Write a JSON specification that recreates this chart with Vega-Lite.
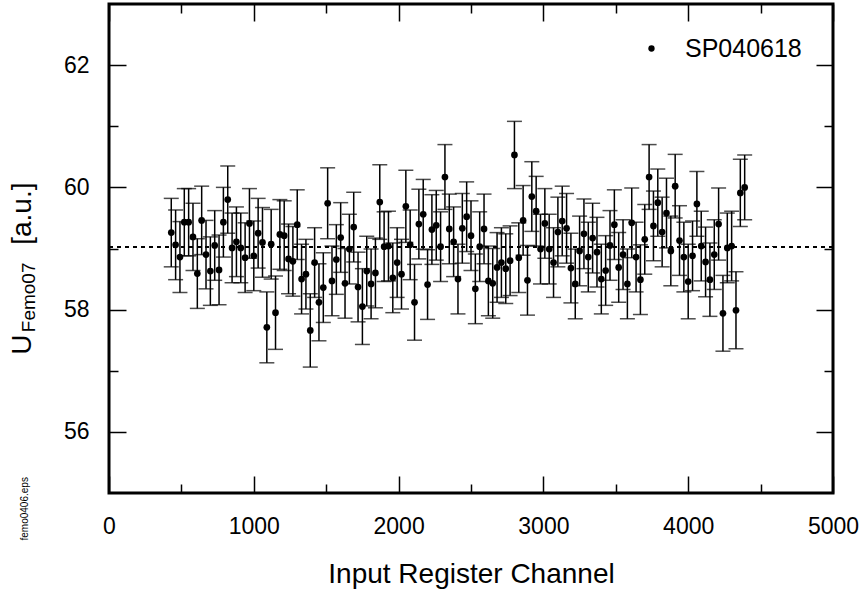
{
"$schema": "https://vega.github.io/schema/vega-lite/v6.json",
"width": 724, "height": 489,
"autosize": {"type": "none"},
"padding": {"left": 109, "top": 4, "right": 29, "bottom": 103},
"background": "white",
"config": {
  "view": {"stroke": "black", "strokeWidth": 3},
  "font": "Liberation Sans",
  "axis": {"grid": false, "domain": false, "tickColor": "black", "tickWidth": 1.5, "labelColor": "black", "titleColor": "black", "labelFont": "Liberation Sans", "titleFont": "Liberation Sans", "labelFontSize": 23, "titleFontWeight": "normal"}
},
"data": {"values": [
{"ch":430,"v":59.26,"lo":58.70,"hi":59.82},
{"ch":460,"v":59.06,"lo":58.49,"hi":59.63},
{"ch":490,"v":58.86,"lo":58.28,"hi":59.44},
{"ch":520,"v":59.43,"lo":58.88,"hi":59.98},
{"ch":550,"v":59.43,"lo":58.88,"hi":59.98},
{"ch":580,"v":59.19,"lo":58.64,"hi":59.74},
{"ch":610,"v":58.59,"lo":58.02,"hi":59.16},
{"ch":640,"v":59.46,"lo":58.90,"hi":60.02},
{"ch":670,"v":58.90,"lo":58.34,"hi":59.46},
{"ch":700,"v":58.63,"lo":58.07,"hi":59.19},
{"ch":730,"v":59.05,"lo":58.48,"hi":59.62},
{"ch":760,"v":58.65,"lo":58.08,"hi":59.22},
{"ch":790,"v":59.43,"lo":58.86,"hi":60.00},
{"ch":820,"v":59.80,"lo":59.25,"hi":60.35},
{"ch":850,"v":59.01,"lo":58.44,"hi":59.58},
{"ch":880,"v":59.11,"lo":58.54,"hi":59.68},
{"ch":910,"v":59.01,"lo":58.44,"hi":59.58},
{"ch":940,"v":58.85,"lo":58.28,"hi":59.42},
{"ch":970,"v":59.41,"lo":58.84,"hi":59.98},
{"ch":1000,"v":58.88,"lo":58.31,"hi":59.45},
{"ch":1030,"v":59.25,"lo":58.68,"hi":59.82},
{"ch":1060,"v":59.10,"lo":58.53,"hi":59.67},
{"ch":1090,"v":57.71,"lo":57.13,"hi":58.29},
{"ch":1120,"v":59.07,"lo":58.50,"hi":59.64},
{"ch":1150,"v":57.95,"lo":57.35,"hi":58.55},
{"ch":1180,"v":59.23,"lo":58.66,"hi":59.80},
{"ch":1210,"v":59.21,"lo":58.64,"hi":59.78},
{"ch":1240,"v":58.83,"lo":58.26,"hi":59.40},
{"ch":1270,"v":58.79,"lo":58.22,"hi":59.36},
{"ch":1300,"v":59.39,"lo":58.82,"hi":59.96},
{"ch":1330,"v":58.50,"lo":57.93,"hi":59.07},
{"ch":1360,"v":58.58,"lo":58.01,"hi":59.15},
{"ch":1390,"v":57.66,"lo":57.06,"hi":58.26},
{"ch":1420,"v":58.77,"lo":58.20,"hi":59.34},
{"ch":1450,"v":58.12,"lo":57.49,"hi":58.75},
{"ch":1480,"v":58.36,"lo":57.79,"hi":58.93},
{"ch":1510,"v":59.74,"lo":59.16,"hi":60.32},
{"ch":1540,"v":58.47,"lo":57.90,"hi":59.04},
{"ch":1570,"v":58.82,"lo":58.25,"hi":59.39},
{"ch":1600,"v":59.18,"lo":58.61,"hi":59.75},
{"ch":1630,"v":58.43,"lo":57.86,"hi":59.00},
{"ch":1660,"v":58.99,"lo":58.42,"hi":59.56},
{"ch":1690,"v":59.35,"lo":58.78,"hi":59.92},
{"ch":1720,"v":58.37,"lo":57.80,"hi":58.94},
{"ch":1750,"v":58.05,"lo":57.43,"hi":58.67},
{"ch":1780,"v":58.63,"lo":58.06,"hi":59.20},
{"ch":1810,"v":58.42,"lo":57.85,"hi":58.99},
{"ch":1840,"v":58.60,"lo":58.03,"hi":59.17},
{"ch":1870,"v":59.76,"lo":59.15,"hi":60.37},
{"ch":1900,"v":59.03,"lo":58.46,"hi":59.60},
{"ch":1930,"v":59.04,"lo":58.47,"hi":59.61},
{"ch":1960,"v":58.52,"lo":57.95,"hi":59.09},
{"ch":1990,"v":58.77,"lo":58.20,"hi":59.34},
{"ch":2020,"v":58.58,"lo":58.01,"hi":59.15},
{"ch":2050,"v":59.69,"lo":59.10,"hi":60.28},
{"ch":2080,"v":59.06,"lo":58.49,"hi":59.63},
{"ch":2110,"v":58.12,"lo":57.50,"hi":58.74},
{"ch":2140,"v":59.40,"lo":58.83,"hi":59.97},
{"ch":2170,"v":59.56,"lo":58.99,"hi":60.13},
{"ch":2200,"v":58.41,"lo":57.84,"hi":58.98},
{"ch":2230,"v":59.31,"lo":58.74,"hi":59.88},
{"ch":2260,"v":59.38,"lo":58.81,"hi":59.95},
{"ch":2290,"v":59.03,"lo":58.46,"hi":59.60},
{"ch":2320,"v":60.17,"lo":59.64,"hi":60.70},
{"ch":2350,"v":59.32,"lo":58.75,"hi":59.89},
{"ch":2380,"v":59.11,"lo":58.54,"hi":59.68},
{"ch":2410,"v":58.50,"lo":57.93,"hi":59.07},
{"ch":2440,"v":59.33,"lo":58.76,"hi":59.90},
{"ch":2470,"v":59.52,"lo":58.95,"hi":60.09},
{"ch":2500,"v":59.21,"lo":58.64,"hi":59.78},
{"ch":2530,"v":58.34,"lo":57.77,"hi":58.91},
{"ch":2560,"v":59.03,"lo":58.46,"hi":59.60},
{"ch":2590,"v":59.32,"lo":58.75,"hi":59.89},
{"ch":2620,"v":58.47,"lo":57.90,"hi":59.04},
{"ch":2650,"v":58.43,"lo":57.86,"hi":59.00},
{"ch":2680,"v":58.69,"lo":58.12,"hi":59.26},
{"ch":2710,"v":58.77,"lo":58.20,"hi":59.34},
{"ch":2740,"v":58.67,"lo":58.10,"hi":59.24},
{"ch":2770,"v":58.80,"lo":58.23,"hi":59.37},
{"ch":2800,"v":60.53,"lo":59.98,"hi":61.08},
{"ch":2830,"v":58.85,"lo":58.28,"hi":59.42},
{"ch":2860,"v":59.46,"lo":58.89,"hi":60.03},
{"ch":2890,"v":58.48,"lo":57.91,"hi":59.05},
{"ch":2920,"v":59.85,"lo":59.28,"hi":60.42},
{"ch":2950,"v":59.61,"lo":59.04,"hi":60.18},
{"ch":2980,"v":58.99,"lo":58.42,"hi":59.56},
{"ch":3010,"v":59.41,"lo":58.84,"hi":59.98},
{"ch":3040,"v":58.99,"lo":58.42,"hi":59.56},
{"ch":3070,"v":58.77,"lo":58.20,"hi":59.34},
{"ch":3100,"v":59.27,"lo":58.70,"hi":59.84},
{"ch":3130,"v":59.45,"lo":58.88,"hi":60.02},
{"ch":3160,"v":59.33,"lo":58.76,"hi":59.90},
{"ch":3190,"v":58.68,"lo":58.11,"hi":59.25},
{"ch":3220,"v":58.42,"lo":57.85,"hi":58.99},
{"ch":3250,"v":58.96,"lo":58.39,"hi":59.53},
{"ch":3280,"v":59.24,"lo":58.67,"hi":59.81},
{"ch":3310,"v":58.86,"lo":58.29,"hi":59.43},
{"ch":3340,"v":59.17,"lo":58.60,"hi":59.74},
{"ch":3370,"v":58.94,"lo":58.37,"hi":59.51},
{"ch":3400,"v":58.50,"lo":57.93,"hi":59.07},
{"ch":3430,"v":58.64,"lo":58.07,"hi":59.21},
{"ch":3460,"v":59.05,"lo":58.48,"hi":59.62},
{"ch":3490,"v":59.39,"lo":58.82,"hi":59.96},
{"ch":3520,"v":58.69,"lo":58.12,"hi":59.26},
{"ch":3550,"v":58.90,"lo":58.33,"hi":59.47},
{"ch":3580,"v":58.42,"lo":57.85,"hi":58.99},
{"ch":3610,"v":59.42,"lo":58.85,"hi":59.99},
{"ch":3640,"v":58.86,"lo":58.29,"hi":59.43},
{"ch":3670,"v":58.49,"lo":57.92,"hi":59.06},
{"ch":3700,"v":59.15,"lo":58.58,"hi":59.72},
{"ch":3730,"v":60.17,"lo":59.64,"hi":60.70},
{"ch":3760,"v":59.37,"lo":58.80,"hi":59.94},
{"ch":3790,"v":59.75,"lo":59.20,"hi":60.30},
{"ch":3820,"v":59.27,"lo":58.70,"hi":59.84},
{"ch":3850,"v":59.58,"lo":59.01,"hi":60.15},
{"ch":3880,"v":58.96,"lo":58.39,"hi":59.53},
{"ch":3910,"v":60.02,"lo":59.50,"hi":60.54},
{"ch":3940,"v":59.13,"lo":58.56,"hi":59.70},
{"ch":3970,"v":58.86,"lo":58.29,"hi":59.43},
{"ch":4000,"v":58.46,"lo":57.85,"hi":59.07},
{"ch":4030,"v":58.88,"lo":58.31,"hi":59.45},
{"ch":4060,"v":59.73,"lo":59.20,"hi":60.26},
{"ch":4090,"v":59.04,"lo":58.47,"hi":59.61},
{"ch":4120,"v":58.78,"lo":58.21,"hi":59.35},
{"ch":4150,"v":58.49,"lo":57.89,"hi":59.09},
{"ch":4180,"v":58.90,"lo":58.33,"hi":59.47},
{"ch":4210,"v":59.40,"lo":58.81,"hi":59.99},
{"ch":4240,"v":57.94,"lo":57.32,"hi":58.56},
{"ch":4270,"v":59.01,"lo":58.44,"hi":59.58},
{"ch":4300,"v":59.04,"lo":58.47,"hi":59.61},
{"ch":4330,"v":57.99,"lo":57.36,"hi":58.62},
{"ch":4360,"v":59.91,"lo":59.36,"hi":60.46},
{"ch":4390,"v":60.00,"lo":59.47,"hi":60.53}
]},
"layer": [
 {"mark": {"type": "rule", "color": "black", "strokeWidth": 1.5},
  "encoding": {
   "x": {"field": "ch", "type": "quantitative", "scale": {"domain": [0, 5000], "nice": false},
         "axis": {"orient": "bottom", "values": [0, 1000, 2000, 3000, 4000, 5000], "format": "d", "tickSize": -17, "labelPadding": 39, "labelFlush": false, "labelOverlap": false,
                  "title": "Input Register Channel", "titleFontSize": 28, "titleX": 362, "titleY": 89, "titleAlign": "center", "titleBaseline": "alphabetic", "titleAngle": 0}},
   "y": {"field": "lo", "type": "quantitative", "scale": {"domain": [55, 63], "nice": false, "zero": false},
         "axis": {"orient": "left", "values": [56, 58, 60, 62], "format": "d", "tickSize": -17, "labelPadding": 37,
                  "title": "U", "titleFontSize": 28, "titleAngle": -90, "titleX": -79, "titleY": 330, "titleAlign": "right", "titleBaseline": "alphabetic"}},
   "y2": {"field": "hi"}
  }},
 {"mark": {"type": "tick", "orient": "horizontal", "color": "black", "thickness": 1.5, "size": 15},
  "encoding": {
   "x": {"field": "ch", "type": "quantitative", "scale": {"domain": [0, 5000], "nice": false},
         "axis": {"orient": "bottom", "values": [500, 1500, 2500, 3500, 4500], "tickSize": -9, "labels": false,
                  "title": "femo0406.eps", "titleFontSize": 10, "titleAngle": -90, "titleX": -82, "titleY": 47, "titleAlign": "left", "titleBaseline": "alphabetic"}},
   "y": {"field": "lo", "type": "quantitative", "scale": {"domain": [55, 63], "nice": false, "zero": false},
         "axis": {"orient": "left", "values": [57, 59, 61], "tickSize": -9, "labels": false,
                  "title": "Femo07", "titleFontSize": 19, "titleAngle": -90, "titleX": -75, "titleY": 258, "titleAlign": "right", "titleBaseline": "alphabetic"}}
  }},
 {"mark": {"type": "tick", "orient": "horizontal", "color": "black", "thickness": 1.5, "size": 15},
  "encoding": {
   "x": {"field": "ch", "type": "quantitative", "scale": {"domain": [0, 5000], "nice": false},
         "axis": {"orient": "top", "values": [0, 1000, 2000, 3000, 4000, 5000], "tickSize": -17, "labels": false, "title": null}},
   "y": {"field": "hi", "type": "quantitative", "scale": {"domain": [55, 63], "nice": false, "zero": false},
         "axis": {"orient": "right", "values": [56, 58, 60, 62], "tickSize": -17, "labels": false,
                  "title": "[a.u.]", "titleFontSize": 28, "titleAngle": -90, "titleX": -803, "titleY": 178, "titleAlign": "right", "titleBaseline": "alphabetic"}}
  }},
 {"mark": {"type": "circle", "size": 45, "opacity": 1},
  "encoding": {
   "x": {"field": "ch", "type": "quantitative", "scale": {"domain": [0, 5000], "nice": false},
         "axis": {"orient": "top", "values": [500, 1500, 2500, 3500, 4500], "tickSize": -9, "labels": false, "title": null}},
   "y": {"field": "v", "type": "quantitative", "scale": {"domain": [55, 63], "nice": false, "zero": false},
         "axis": {"orient": "right", "values": [57, 59, 61], "tickSize": -9, "labels": false, "title": null}},
   "color": {"datum": "SP040618", "type": "nominal", "scale": {"range": ["black"]},
             "legend": {"title": null, "orient": "none", "legendX": 530, "legendY": 32, "padding": 0, "labelFontSize": 25, "labelFont": "Liberation Sans", "labelColor": "black", "symbolSize": 40, "symbolType": "circle", "symbolFillColor": "black", "symbolStrokeColor": "black", "symbolStrokeWidth": 0, "labelOffset": 21}}
  }},
 {"mark": {"type": "rule", "color": "black", "strokeWidth": 1, "strokeDash": [4, 4]},
  "encoding": {
   "y": {"datum": 59.03, "type": "quantitative", "scale": {"domain": [55, 63], "nice": false, "zero": false}, "axis": null}
  }}
],
"resolve": {"axis": {"x": "independent", "y": "independent"}}
}
